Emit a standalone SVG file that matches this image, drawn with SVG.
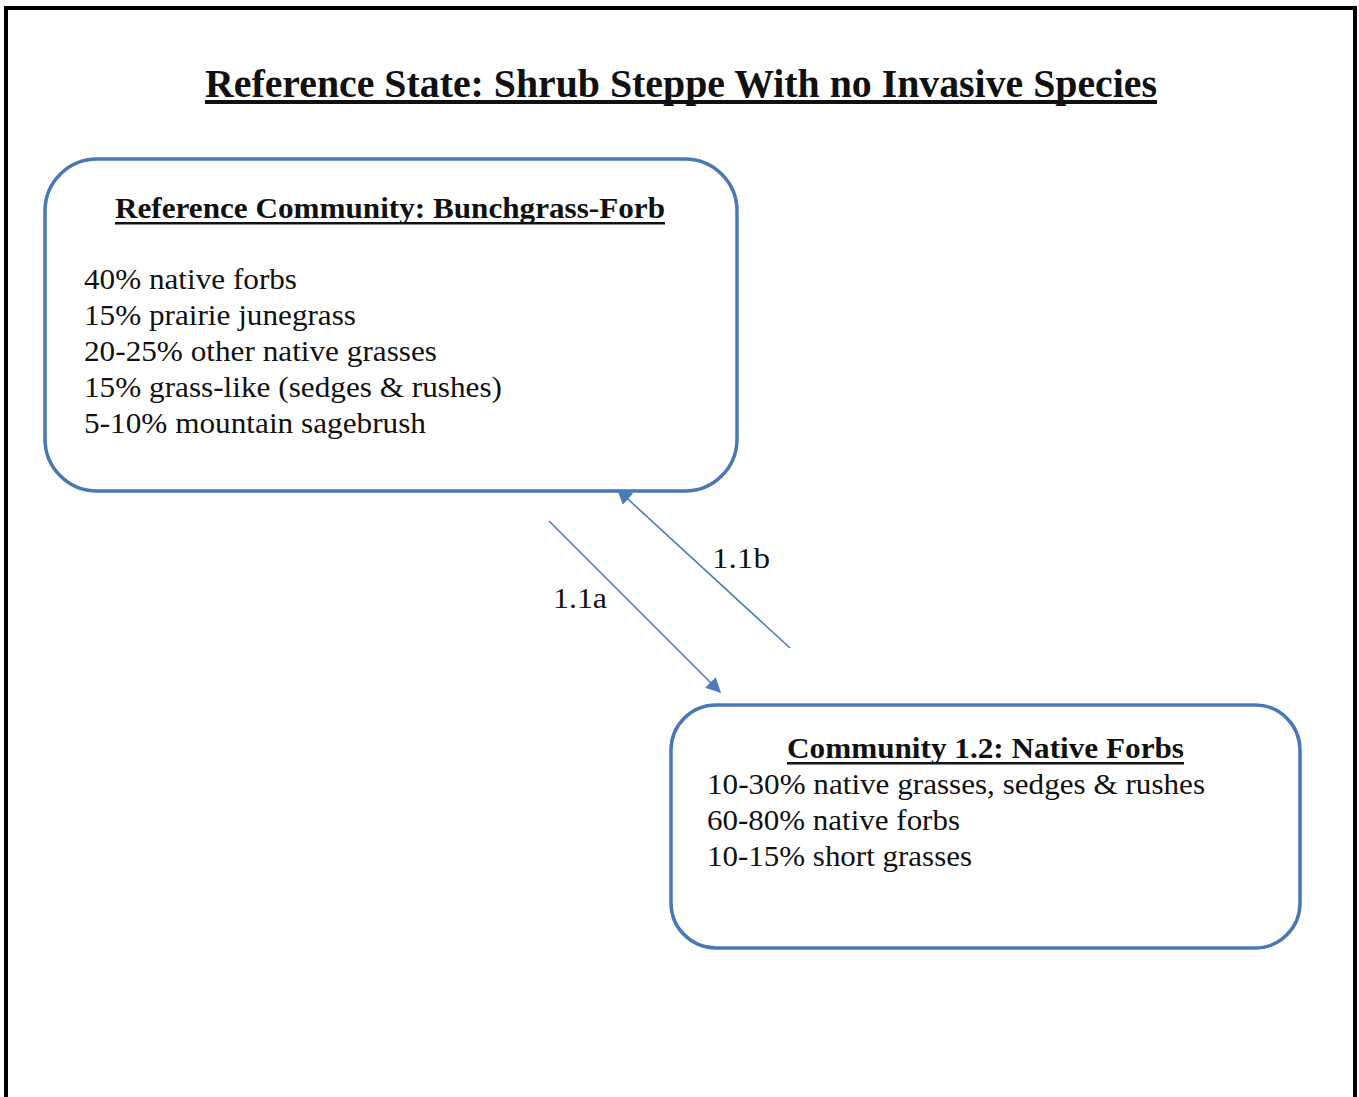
<svg xmlns="http://www.w3.org/2000/svg" width="1359" height="1097" viewBox="0 0 1359 1097">
<style>
text{font-family:'Liberation Serif','Times New Roman',Times,serif;fill:#111}
.b{font-weight:bold}
.box{fill:#fff;stroke:#4a78b5;stroke-width:3.5}
.conn{stroke:#4a7ab8;stroke-width:1.6;fill:none}
</style>
<defs>
<marker id="ah" viewBox="0 0 10 10" refX="9" refY="5" markerWidth="17" markerHeight="15" markerUnits="userSpaceOnUse" orient="auto">
<path d="M0,0 L10,5 L0,10 z" fill="#4a7ab8"/>
</marker>
</defs>
<rect x="0" y="0" width="1359" height="1097" fill="#fff"/>
<path d="M6,1100 L6,8 L1355,8 L1355,1100" fill="none" stroke="#000" stroke-width="4"/>
<g id="title">
<text class="b" x="205" y="97" font-size="40" textLength="952" lengthAdjust="spacingAndGlyphs" font-family="Liberation Serif, serif">Reference State: Shrub Steppe With no Invasive Species</text>
<rect x="205" y="100" width="952" height="4" fill="#111"/>
</g>
<g id="node-ref">
<rect class="box" x="45" y="159" width="692" height="332" rx="52"/>
<text class="b" x="115" y="218" font-size="30" textLength="550" lengthAdjust="spacingAndGlyphs">Reference Community: Bunchgrass-Forb</text>
<rect x="115" y="222" width="550" height="2.5" fill="#111"/>
<text x="84" y="289" font-size="29" textLength="213" lengthAdjust="spacingAndGlyphs">40% native forbs</text>
<text x="84" y="325" font-size="29" textLength="272" lengthAdjust="spacingAndGlyphs">15% prairie junegrass</text>
<text x="84" y="361" font-size="29" textLength="353" lengthAdjust="spacingAndGlyphs">20-25% other native grasses</text>
<text x="84" y="397" font-size="29" textLength="418" lengthAdjust="spacingAndGlyphs">15% grass-like (sedges &amp; rushes)</text>
<text x="84" y="433" font-size="29" textLength="342" lengthAdjust="spacingAndGlyphs">5-10% mountain sagebrush</text>
</g>
<g id="node-12">
<rect class="box" x="671" y="705" width="629" height="243" rx="45"/>
<text class="b" x="787" y="758" font-size="30" textLength="397" lengthAdjust="spacingAndGlyphs">Community 1.2: Native Forbs</text>
<rect x="787" y="762" width="397" height="2.5" fill="#111"/>
<text x="707" y="794" font-size="29" textLength="498" lengthAdjust="spacingAndGlyphs">10-30% native grasses, sedges &amp; rushes</text>
<text x="707" y="830" font-size="29" textLength="253" lengthAdjust="spacingAndGlyphs">60-80% native forbs</text>
<text x="707" y="866" font-size="29" textLength="265" lengthAdjust="spacingAndGlyphs">10-15% short grasses</text>
</g>
<g id="connectors">
<line class="conn" x1="549" y1="521" x2="720" y2="692" marker-end="url(#ah)"/>
<line class="conn" x1="790" y1="648" x2="618" y2="490" marker-end="url(#ah)"/>
<text x="553" y="608" font-size="29" textLength="54" lengthAdjust="spacingAndGlyphs">1.1a</text>
<text x="712" y="568" font-size="29" textLength="58" lengthAdjust="spacingAndGlyphs">1.1b</text>
</g>
</svg>
